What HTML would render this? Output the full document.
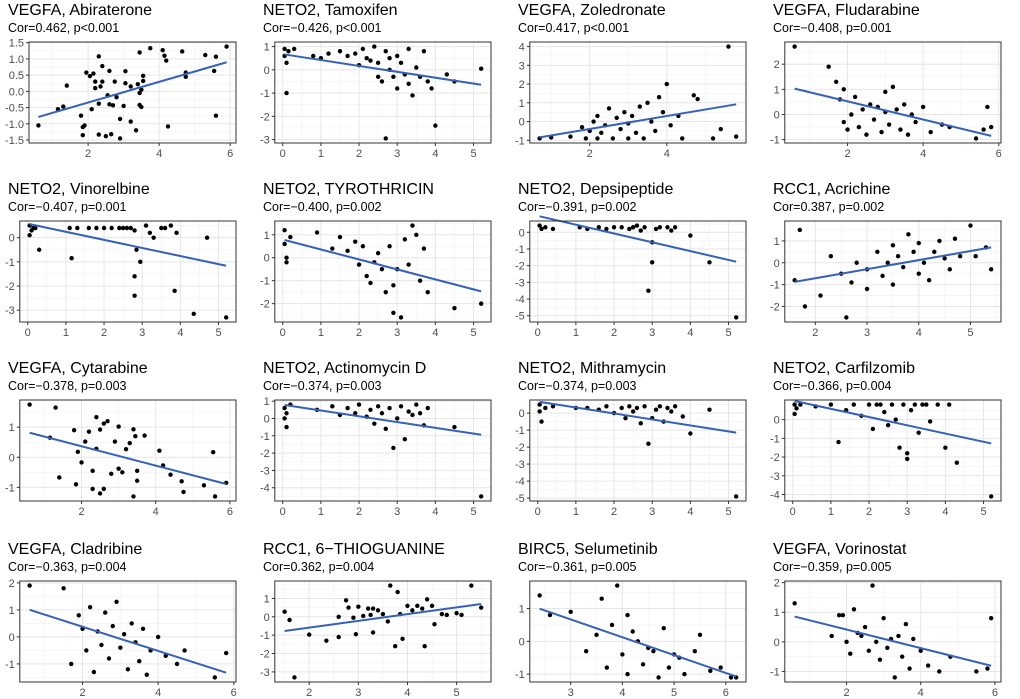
<!DOCTYPE html>
<html><head><meta charset="utf-8"><style>
html,body{margin:0;padding:0;background:#fff;}
svg{display:block;font-family:"Liberation Sans",sans-serif;}
</style></head><body>
<svg id="chart" width="1020" height="699" viewBox="0 0 1020 699"></svg>
<script>
const titles=["VEGFA, Abiraterone","NETO2, Tamoxifen","VEGFA, Zoledronate","VEGFA, Fludarabine","NETO2, Vinorelbine","NETO2, TYROTHRICIN","NETO2, Depsipeptide","RCC1, Acrichine","VEGFA, Cytarabine","NETO2, Actinomycin D","NETO2, Mithramycin","NETO2, Carfilzomib","VEGFA, Cladribine","RCC1, 6\u2212THIOGUANINE","BIRC5, Selumetinib","VEGFA, Vorinostat"];
const subtitles=["Cor=0.462, p<0.001","Cor=\u22120.426, p<0.001","Cor=0.417, p<0.001","Cor=\u22120.408, p=0.001","Cor=\u22120.407, p=0.001","Cor=\u22120.400, p=0.002","Cor=\u22120.391, p=0.002","Cor=0.387, p=0.002","Cor=\u22120.378, p=0.003","Cor=\u22120.374, p=0.003","Cor=\u22120.374, p=0.003","Cor=\u22120.366, p=0.004","Cor=\u22120.363, p=0.004","Cor=0.362, p=0.004","Cor=\u22120.361, p=0.005","Cor=\u22120.359, p=0.005"];
const xTicks=[[2,4,6],[0,1,2,3,4,5],[2,4],[2,4,6],[0,1,2,3,4,5],[0,1,2,3,4,5],[0,1,2,3,4,5],[2,3,4,5],[2,4,6],[0,1,2,3,4,5],[0,1,2,3,4,5],[0,1,2,3,4,5],[2,4,6],[2,3,4,5],[3,4,5,6],[2,4,6]];
const yTicks=[["-1.5","-1.0","-0.5","0.0","0.5","1.0","1.5"],["-3","-2","-1","0","1"],["-1","0","1","2","3","4"],["-1","0","1","2"],["-3","-2","-1","0"],["-2","-1","0","1"],["-5","-4","-3","-2","-1","0"],["-2","-1","0","1","2"],["-1","0","1"],["-4","-3","-2","-1","0","1"],["-5","-4","-3","-2","-1","0"],["-4","-3","-2","-1","0"],["-1","0","1","2"],["-3","-2","-1","0","1"],["-1","0","1"],["-1","0","1","2"]];
const xVals=[
[0.6,1.15,1.3,1.4,1.8,1.85,1.85,1.9,1.95,2.05,2.1,2.15,2.2,2.2,2.3,2.3,2.3,2.35,2.4,2.4,2.5,2.55,2.6,2.6,2.65,2.7,2.75,2.8,2.9,2.9,3.0,3.05,3.05,3.2,3.2,3.35,3.4,3.45,3.45,3.45,3.5,3.5,3.55,3.55,3.75,4.1,4.15,4.2,4.25,4.65,4.75,4.75,5.3,5.55,5.6,5.6,5.9],
[0.05,0.05,0.1,0.1,0.15,0.3,0.8,1,1.2,1.5,1.7,1.9,2.0,2.1,2.2,2.3,2.4,2.5,2.5,2.6,2.7,2.7,2.8,2.8,2.9,3.0,3.0,3.1,3.2,3.3,3.3,3.4,3.5,3.6,3.7,3.8,3.9,4.0,4.3,4.5,5.2],
[0.7,1.0,1.5,1.8,1.9,2.0,2.1,2.2,2.2,2.3,2.4,2.5,2.6,2.7,2.8,2.9,3.0,3.0,3.1,3.2,3.3,3.4,3.5,3.6,3.7,3.8,3.9,4.0,4.1,4.3,4.4,4.7,4.8,5.2,5.4,5.6,5.8],
[0.6,1.5,1.7,1.8,1.9,1.9,2.0,2.1,2.2,2.3,2.4,2.5,2.6,2.7,2.8,2.9,3.0,3.0,3.1,3.2,3.3,3.4,3.5,3.6,3.7,3.8,4.0,4.2,4.5,4.7,5.4,5.6,5.7,5.8],
[0.05,0.05,0.1,0.15,0.3,0.2,1.15,1.1,1.3,1.6,1.8,2.0,2.2,2.4,2.5,2.6,2.7,2.8,2.8,2.85,2.95,2.8,3.1,3.2,3.3,3.5,3.6,3.75,3.9,3.85,4.35,4.7,5.2],
[0.05,0.05,0.1,0.1,0.2,0.9,1.3,1.5,1.7,1.9,2.0,2.1,2.2,2.3,2.4,2.5,2.6,2.7,2.8,2.9,2.9,3.0,3.1,3.2,3.3,3.4,3.5,3.6,3.7,3.8,4.5,5.2],
[0.05,0.1,0.2,0.4,1.1,1.3,1.6,1.8,2.0,2.2,2.4,2.5,2.6,2.7,2.8,2.9,3.0,3.0,3.1,3.2,3.4,3.5,3.6,4.0,4.5,5.2],
[1.6,1.7,1.8,2.1,2.3,2.5,2.6,2.7,2.8,3.0,3.0,3.2,3.3,3.4,3.5,3.5,3.6,3.7,3.8,3.9,4.0,4.0,4.1,4.2,4.3,4.4,4.5,4.6,4.7,4.8,5.0,5.1,5.3,5.4],
[0.6,1.15,1.3,1.4,1.8,1.85,1.9,2.0,2.1,2.2,2.3,2.3,2.4,2.4,2.5,2.5,2.6,2.6,2.7,2.8,2.9,3.0,3.0,3.1,3.2,3.3,3.4,3.4,3.45,3.5,3.5,3.7,4.1,4.2,4.4,4.7,4.75,5.3,5.55,5.6,5.9],
[0.05,0.05,0.1,0.1,0.2,0.9,1.3,1.5,1.7,1.9,2.0,2.2,2.3,2.4,2.5,2.6,2.7,2.8,2.9,3.0,3.1,3.2,3.3,3.4,3.5,3.6,3.7,3.8,4.5,5.2],
[0.05,0.05,0.1,0.2,0.4,1.0,1.3,1.6,1.8,2.0,2.2,2.3,2.4,2.5,2.6,2.7,2.8,2.9,3.0,3.1,3.2,3.3,3.4,3.5,3.6,3.8,4.0,4.5,5.2],
[0.05,0.05,0.1,0.2,0.6,1.0,1.2,1.4,1.6,1.8,2.0,2.1,2.2,2.4,2.5,2.6,2.7,2.8,2.9,3.0,3.0,3.1,3.2,3.3,3.5,3.6,4.0,4.3,5.2,3.8,4.1,3.4,2.3],
[0.6,1.5,1.7,1.9,2.0,2.1,2.2,2.3,2.4,2.5,2.6,2.7,2.8,2.9,3.0,3.1,3.2,3.3,3.4,3.5,3.6,3.7,3.8,4.0,4.2,4.5,4.7,5.5,5.8],
[1.5,1.6,1.7,2.0,2.35,2.6,2.6,2.75,2.8,2.9,2.95,3.0,3.1,3.2,3.25,3.3,3.3,3.4,3.5,3.6,3.65,3.75,3.8,3.85,3.9,4.0,4.1,4.2,4.3,4.35,4.4,4.5,4.55,4.7,4.8,5.0,5.1,5.3,5.5],
[2.4,2.6,3.0,3.3,3.5,3.6,3.7,3.8,3.9,4.0,4.1,4.1,4.2,4.3,4.4,4.5,4.6,4.7,4.8,4.9,5.0,5.1,5.2,5.4,5.5,5.7,5.9,6.1,6.2],
[0.6,1.6,1.8,1.9,2.0,2.1,2.2,2.3,2.4,2.5,2.6,2.7,2.8,2.9,3.0,3.1,3.2,3.3,3.4,3.5,3.6,3.7,3.8,4.0,4.2,4.5,4.8,5.5,5.8,5.9]];
const yVals=[
[-1.05,-0.55,-0.47,0.18,-0.75,-1.35,-1.1,-1.05,0.58,0.47,-0.55,0.55,0.3,0.1,1.08,-0.38,-1.33,0.15,0.3,0.78,-1.38,-0.12,0.63,-0.4,-1.32,-0.43,0.3,-0.18,-1.45,-0.85,-0.45,0.62,0.25,0.15,-0.93,-1.2,0.22,-0.05,1.2,-0.42,0.05,-0.48,0.48,0.32,1.33,1.27,1.1,0.95,-1.08,1.23,0.58,0.45,1.12,0.63,1.07,-0.75,1.38],
[0.9,0.6,0.3,-1,0.8,0.9,0.6,0.5,0.7,0.8,0.6,0.7,0.2,0.9,0.5,0.4,1.0,0.3,-0.3,-0.5,0.8,-2.95,0.5,0,-0.3,0.6,-0.8,0.3,-0.2,-0.6,0.9,-1.1,0.1,-0.3,0.8,-0.5,-0.8,-2.4,-0.2,-0.5,0.05],
[-0.9,-0.85,-0.8,-0.3,-0.9,-0.5,0,-0.9,0.3,-0.6,-0.2,0.7,-0.9,0.2,-0.4,0.5,-0.9,-0.1,0.3,-0.6,0.8,-0.9,1.0,0,-0.5,1.3,0.5,2.0,-0.2,0.3,-0.9,1.4,1.2,-0.9,-0.4,4.0,-0.8],
[2.7,1.9,1.3,0.6,1.0,-0.3,-0.6,0,0.7,-0.5,0.2,-0.8,0.4,-0.2,0.3,-0.7,0.9,0.1,-0.4,1.1,0.2,-0.6,0.4,-0.8,0,-0.3,0.3,-0.7,-0.4,-0.5,-0.95,-0.6,0.3,-0.5],
[0.5,0.1,0.3,0.4,-0.5,0.4,-0.85,0.4,0.4,0.4,0.4,0.4,0.4,0.4,0.4,0.4,0.4,-1.6,-2.4,-0.5,-1.0,0.3,0.5,0.2,0,0.4,0.4,0.5,0.2,-2.2,-3.15,0,-3.3],
[1.2,0.6,-0.2,0,0.9,1.1,0.4,0.9,0.3,0.7,-0.3,0.5,-0.8,-1.1,-0.2,0.2,-0.5,-1.5,0.5,-1.2,-2.4,-0.5,-2.6,0.8,-0.3,1.4,1.0,-1.0,0.4,-1.5,-2.2,-2.0],
[0.4,0.2,0.3,0.2,0.3,0.2,0.3,0.2,0.3,0.3,0.2,0.3,0.4,0.1,0.3,-3.5,-1.8,-0.6,0.2,0.3,0.3,0.1,0.3,-0.2,-1.8,-5.1],
[-0.8,1.5,-2.0,-1.5,0.3,-0.5,-2.5,-0.9,0,-0.3,-1.2,0.5,-0.6,0,0.8,-1.0,0.3,-0.2,1.3,0.5,-0.5,0.9,0,-0.8,0.5,1.0,0.2,-0.3,1.1,0.3,1.7,0.3,0.7,-0.3],
[1.75,0.65,1.65,-0.67,0.9,-0.9,0.18,-0.17,0.52,0.85,-0.45,-1.05,1.33,0.28,0.92,-1.2,1.12,-1.05,1.2,-0.55,0.52,1.02,-0.38,-0.5,0.27,0.47,0.93,-1.3,0.7,-0.45,-0.78,0.72,0.22,-0.27,-0.58,-0.8,-1.15,-0.93,0.17,-1.3,-0.85],
[0.6,0,-0.5,0.3,0.8,0.5,0.7,0.2,0.6,0.3,0.8,0.1,0.5,-0.3,0.7,0.3,-0.6,0.6,-1.7,0,0.7,-1.2,0.4,0.2,0.8,0.3,-0.4,0.6,-0.5,-4.5],
[0.5,0.1,-0.5,0.3,0.4,0.3,0.3,0.2,0.4,0,0.3,-0.3,0.4,0.1,0.3,-0.6,0.4,-1.8,-0.3,0.2,0.4,-0.5,0.3,0.1,0.4,-0.2,-1.2,0.2,-4.9],
[0.8,0.3,0.6,0.8,0.7,0.8,-1.2,0.5,0.8,0.2,0.8,-0.5,0.8,0.4,-0.3,0.8,0,-1.5,0.8,-1.8,-2.1,0.5,0.8,-0.7,0.8,-0.1,-1.5,-2.3,-4.1,0.8,0.8,0.8,0.8],
[1.9,1.8,-1.0,0.8,0.3,-0.5,1.1,-1.3,0.2,-0.3,0.9,-0.8,0.4,1.3,-0.4,0.1,-1.2,0.5,-0.2,-0.9,0.3,-1.4,-0.5,0,-0.7,-1.0,-0.5,-1.5,-0.6],
[0.28,-0.17,-3.3,-0.97,-1.3,0,-1.1,0.9,0.5,-0.05,-0.95,0.55,0.05,0.45,0.1,0.45,-0.85,0.35,0.15,-0.25,1.7,-1.6,1.35,0.15,-1.2,0.6,0.35,0.6,0.45,-1.6,0.95,0.6,-0.4,0.15,0.1,0.2,0.1,1.7,0.5],
[1.4,0.8,0.9,-0.3,0.2,1.3,-0.8,0.5,1.7,-0.4,0.8,-1.0,0.3,0,-0.7,-0.2,-0.3,-1.1,0.4,-0.8,-0.4,-0.5,-1.0,-0.3,0.2,-0.9,-0.8,-1.1,-1.1],
[1.3,0.2,0.9,0.9,0,-0.4,1.1,0.3,0.2,0.5,-0.3,1.9,0,-0.6,0.8,-0.2,0.1,-1.2,0.2,-0.5,0.6,-0.9,0.1,-0.3,-0.8,-1.0,-0.5,-1.0,-0.9,0.8]];

const NS='http://www.w3.org/2000/svg';
const svg=document.getElementById('chart');
function mk(tag,attrs,parent){const e=document.createElementNS(NS,tag);for(const k in attrs)e.setAttribute(k,attrs[k]);(parent||svg).appendChild(e);return e;}
function txtWidth(s){let w=0;for(const c of s){w+= c==='-'?3.7:(c==='.'?3.1:6.1);}return w;}
const plotTops=[42,221,400,581];
const colX=[0,255,510,765];
for(let i=0;i<16;i++){
  const r=Math.floor(i/4),c=i%4;
  const x0=colX[c],top=plotTops[r],bot=top+101,right=x0+236;
  const xs=xVals[i],ys=yVals[i];
  const xmin=Math.min(...xs),xmax=Math.max(...xs),ymin=Math.min(...ys),ymax=Math.max(...ys);
  const xd=[xmin-(xmax-xmin)*0.05,xmax+(xmax-xmin)*0.05];
  const yd=[ymin-(ymax-ymin)*0.05,ymax+(ymax-ymin)*0.05];
  const yLab=yTicks[i].filter(s=>+s>=yd[0]&&+s<=yd[1]);
  const yt=yLab.map(Number);
  const maxW=Math.max(...yLab.map(txtWidth));
  const left=x0+10+maxW;
  const g=mk('g',{});
  
  
  const t=mk('text',{x:x0+8,y:top-27,'font-size':16,fill:'#000'},g);t.textContent=titles[i];
  
  
  const st=mk('text',{x:x0+8,y:top-10,'font-size':12.5,fill:'#000'},g);st.textContent=subtitles[i];
  
  
  const sx=v=>left+(v-xd[0])/(xd[1]-xd[0])*(right-left);
  const sy=v=>bot-(v-yd[0])/(yd[1]-yd[0])*(bot-top);
  const xt=xTicks[i].filter(v=>v>=xd[0]&&v<=xd[1]);
  const xstep=xTicks[i][1]-xTicks[i][0],ystep=(+yTicks[i][1])-(+yTicks[i][0]);
  for(let v=xTicks[i][0]-xstep/2;v<=xd[1];v+=xstep){if(v>=xd[0])mk('line',{x1:sx(v),x2:sx(v),y1:top,y2:bot,stroke:'#f2f2f2','stroke-width':0.6},g);}
  for(let v=(+yTicks[i][0])-ystep/2;v<=yd[1];v+=ystep){if(v>=yd[0])mk('line',{x1:left,x2:right,y1:sy(v),y2:sy(v),stroke:'#f2f2f2','stroke-width':0.6},g);}
  xt.forEach(v=>{mk('line',{x1:sx(v),x2:sx(v),y1:top,y2:bot,stroke:'#e6e6e6','stroke-width':1},g);
    mk('line',{x1:sx(v),x2:sx(v),y1:bot,y2:bot+3,stroke:'#333','stroke-width':1},g);
    const l=mk('text',{x:sx(v),y:bot+14,'font-size':11,fill:'#4d4d4d','text-anchor':'middle'},g);l.textContent=v;
    
    });
  yt.forEach((v,k)=>{mk('line',{x1:left,x2:right,y1:sy(v),y2:sy(v),stroke:'#e6e6e6','stroke-width':1},g);
    mk('line',{x1:left-3,x2:left,y1:sy(v),y2:sy(v),stroke:'#333','stroke-width':1},g);
    const l=mk('text',{x:left-5,y:sy(v)+4,'font-size':11,fill:'#4d4d4d','text-anchor':'end'},g);l.textContent=yLab[k];
    
    });
  xs.forEach((v,k)=>{const p=mk('circle',{cx:sx(v),cy:sy(ys[k]),r:2.2,fill:'#000'},g);
    
    });
  const n=xs.length,mx=xs.reduce((a,b)=>a+b)/n,my=ys.reduce((a,b)=>a+b)/n;
  let sxy=0,sxx=0;xs.forEach((v,k)=>{sxy+=(v-mx)*(ys[k]-my);sxx+=(v-mx)*(v-mx);});
  const b=sxy/sxx,a=my-b*mx;
  const ln=mk('line',{x1:sx(xmin),y1:sy(a+b*xmin),x2:sx(xmax),y2:sy(a+b*xmax),stroke:'#3561b8','stroke-width':2},g);
  
  
  const bd=mk('rect',{x:left,y:top,width:right-left,height:bot-top,fill:'none',stroke:'#333','stroke-width':1},g);
  
  
}
</script>
</body></html>
